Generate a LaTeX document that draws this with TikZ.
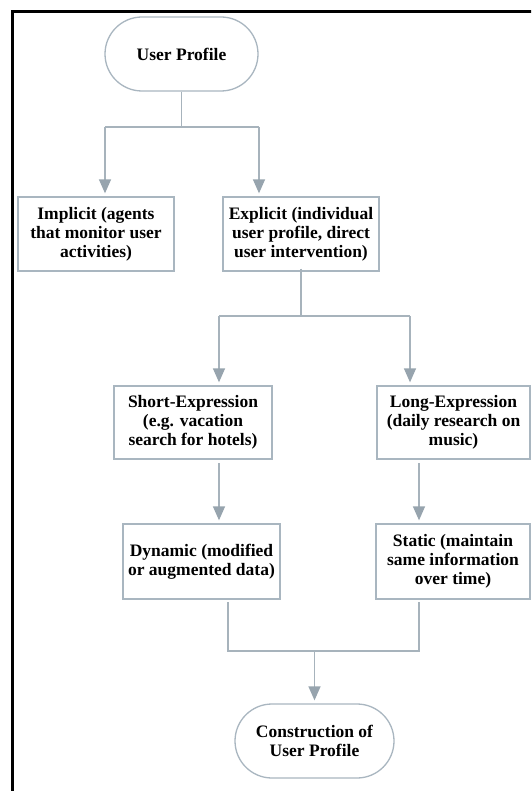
\documentclass[tikz,border=0pt]{standalone}
\usepackage{fontspec}
\setmainfont{Liberation Serif}
\usetikzlibrary{arrows.meta}
\definecolor{edgec}{HTML}{A9B6C0}
\definecolor{linec}{HTML}{A7B3BC}
\definecolor{tipc}{HTML}{97A4AE}
\tikzset{
  box/.style={draw=edgec, line width=1.3pt, fill=white, minimum width=156pt, minimum height=74pt,
    align=center, font=\fontsize{17.5}{19}\selectfont\bfseries, inner sep=0pt},
  term/.style={box, rounded corners=37pt, minimum width=153pt},
  conn/.style={draw=linec, line width=1.4pt},
  arr/.style={conn, -{Triangle[width=12pt,length=14pt,fill=tipc,color=tipc]}, shorten >=3pt},
  frame/.style={draw=black, line width=3pt}
}
\begin{document}
\begin{tikzpicture}[x=1pt,y=-1pt]
\useasboundingbox (0,0) rectangle (531,791);
\begin{scope}
\clip (0,0) rectangle (531,791);
\draw[frame] (12,800) -- (12,12) -- (540,12);

\node[term] (up) at (181.5,54) {User Profile};
\node[box] (imp) at (96,234) {Implicit (agents\\that monitor user\\activities)};
\node[box] (exp) at (301,234) {Explicit (individual\\user profile, direct\\user intervention)};
\node[box, minimum width=158pt, minimum height=73pt] (short) at (193,422.5) {Short-Expression\\(e.g. vacation\\search for hotels)};
\node[box, minimum width=153pt, minimum height=73pt] (long) at (453.5,422.5) {Long-Expression\\(daily research on\\music)};
\node[box, minimum width=157pt, minimum height=75pt] (dyn) at (201.5,561.5) {Dynamic (modified\\or augmented data)};
\node[box, minimum width=154pt, minimum height=75pt] (stat) at (453,561.5) {Static (maintain\\same information\\over time)};
\node[term, minimum width=159pt] (cons) at (314.5,741) {Construction of\\User Profile};

% top split
\coordinate (s1) at (181.5,127);
\coordinate (b1) at (105,127);
\coordinate (b2) at (259,127);
\draw[conn] (up.south) -- (s1);
\draw[conn] (b1) -- (b2);
\draw[arr] (b1) -- (b1 |- imp.north);
\draw[arr] (b2) -- (b2 |- exp.north);

% explicit split
\coordinate (s2) at (301,316);
\coordinate (c1) at (219,316);
\coordinate (c2) at (410,316);
\draw[conn] ([yshift=3pt]exp.south) -- (s2);
\draw[conn] (c1) -- (c2);
\draw[arr] (c1) -- (c1 |- short.north);
\draw[arr] (c2) -- (c2 |- long.north);

% to dynamic / static
\coordinate (d1) at (219,463);
\coordinate (d2) at (419,463);
\draw[arr] (d1) -- (d1 |- dyn.north);
\draw[arr] (d2) -- (d2 |- stat.north);

% merge
\coordinate (m1) at (228,602);
\coordinate (m2) at (419,602);
\coordinate (m3) at (314.5,651);
\draw[conn] (m1) |- (m2 |- m3) -- (m2);
\draw[arr] (m3) -- (cons.north);
\end{scope}
\end{tikzpicture}
\end{document}
